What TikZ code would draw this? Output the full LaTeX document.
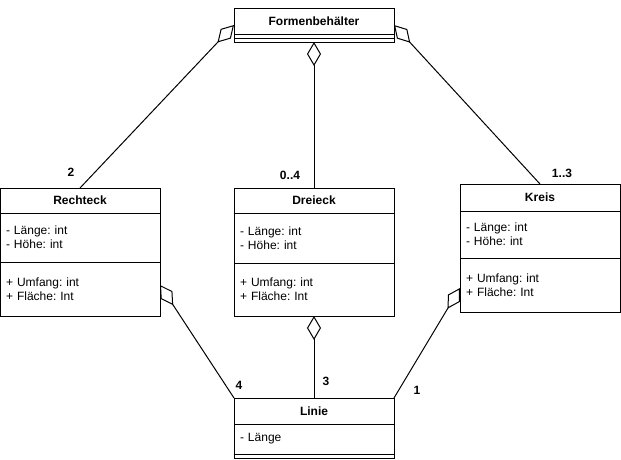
\documentclass[tikz,border=0pt]{standalone}
\usepackage{fontspec}
\setmainfont{Liberation Sans}
\usetikzlibrary{positioning,arrows.meta}
\frenchspacing

\begin{document}
\begin{tikzpicture}[x=1pt,y=-1pt,
  classtitle/.style={draw,line width=1pt,outer sep=0pt,inner sep=0pt,
    minimum width=160pt,minimum height=#1,
    font=\fontsize{12}{14}\selectfont\bfseries},
  classtitle/.default=26pt,
  classpart/.style={draw,line width=1pt,outer sep=0pt,inner xsep=6pt,inner ysep=0pt,
    text width=148pt,minimum height=#1,align=left,
    font=\fontsize{12}{14}\selectfont\frenchspacing},
  classpart/.default=4pt,
  agg/.style={line width=1pt,-{Diamond[open,length=24pt,width=14pt]}},
  mult/.style={font=\fontsize{12}{14}\selectfont\bfseries,inner sep=0pt}]

\useasboundingbox (0,0) rectangle (621,459);

% Formenbehaelter
\node[classtitle=26pt,anchor=north west] (formenT) at (234,8) {Formenbehälter};
\node[classpart=4pt,below=0pt of formenT] (formenA) {};
\node[classpart=4pt,below=0pt of formenA] (formenM) {};

% Rechteck
\node[classtitle=25pt,anchor=north west] (rechteckT) at (0,188) {Rechteck};
\node[classpart=49pt,below=0pt of rechteckT] (rechteckA) {- Länge: int\\- Höhe: int};
\node[classpart=54pt,below=0pt of rechteckA] (rechteckM) {+ Umfang: int\\+ Fläche: Int};

% Dreieck
\node[classtitle=25pt,anchor=north west] (dreieckT) at (234,188) {Dreieck};
\node[classpart=50pt,below=0pt of dreieckT] (dreieckA) {- Länge: int\\- Höhe: int};
\node[classpart=53pt,below=0pt of dreieckA] (dreieckM) {+ Umfang: int\\+ Fläche: Int};

% Kreis
\node[classtitle=27pt,anchor=north west] (kreisT) at (460,184) {Kreis};
\node[classpart=47pt,below=0pt of kreisT] (kreisA) {- Länge: int\\- Höhe: int};
\node[classpart=54pt,below=0pt of kreisA] (kreisM) {+ Umfang: int\\+ Fläche: Int};

% Linie
\node[classtitle=26pt,anchor=north west] (linieT) at (234,398) {Linie};
\node[classpart=30pt,below=0pt of linieT] (linieA) {- Länge};
\node[classpart=4pt,below=0pt of linieA] (linieM) {};

% Aggregations
\draw[agg] (rechteckT.north) -- ([yshift=-4pt]formenT.west);
\draw[agg] (dreieckT.north) -- (formenM.south);
\draw[agg] (kreisT.north) -- ([yshift=-4pt]formenT.east);
\draw[agg] (linieT.north west) -- ([yshift=4pt]rechteckM.east);
\draw[agg] (linieT.north) -- (dreieckM.south);
\draw[agg] (linieT.north east) -- ([yshift=-3pt]kreisM.west);

% Multiplicities
\node[mult] (mRechteck) at (71,172) {2};
\node[mult] (mDreieck) at (290,175) {0..4};
\node[mult] (mKreis) at (562,173) {1..3};
\node[mult] (mLinieR) at (239,385) {4};
\node[mult] (mLinieD) at (326,381) {3};
\node[mult] (mLinieK) at (417,390) {1};

\end{tikzpicture}
\end{document}
